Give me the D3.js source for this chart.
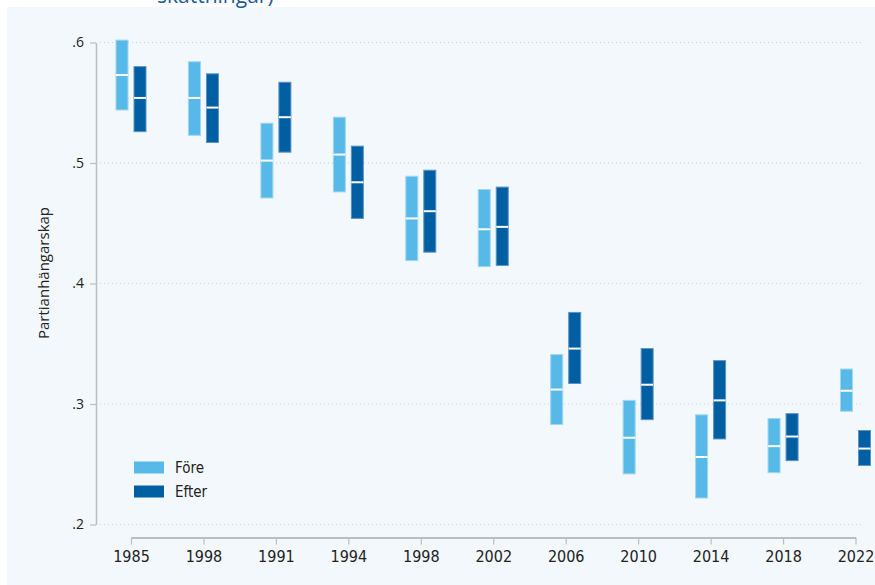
<!DOCTYPE html>
<html>
<head>
<meta charset="utf-8">
<script src="https://cdn.jsdelivr.net/npm/d3@7"></script>
<style>
  html, body { margin: 0; padding: 0; background: #ffffff; }
  svg { display: block; }
</style>
</head>
<body>
<svg id="chart" width="875" height="585"></svg>
<script>
// ---- Data ----
const yearLabels = ["1985", "1998", "1991", "1994", "1998", "2002", "2006", "2010", "2014", "2018", "2022"];
const foreLow  = [0.544, 0.523, 0.471, 0.476, 0.419, 0.414, 0.283, 0.242, 0.222, 0.243, 0.294];
const foreMid  = [0.573, 0.554, 0.502, 0.507, 0.454, 0.445, 0.312, 0.272, 0.256, 0.265, 0.311];
const foreHigh = [0.602, 0.584, 0.533, 0.538, 0.489, 0.478, 0.341, 0.303, 0.291, 0.288, 0.329];
const efterLow  = [0.526, 0.517, 0.509, 0.454, 0.426, 0.415, 0.317, 0.287, 0.271, 0.253, 0.249];
const efterMid  = [0.554, 0.546, 0.538, 0.484, 0.460, 0.447, 0.346, 0.316, 0.303, 0.273, 0.263];
const efterHigh = [0.580, 0.574, 0.567, 0.514, 0.494, 0.480, 0.376, 0.346, 0.336, 0.292, 0.278];
const yTicks = [0.2, 0.3, 0.4, 0.5, 0.6];
const seriesNames = ["Före", "Efter"];
const titleTail = "skattningar)";
const yLabel = "Partianhängarskap";

// ---- Styles ----
const colFore = "#56b9e8", colFore2 = "#9fd6f2";
const colEfter = "#005ea3", colEfter2 = "#5c93c4";
const narrow = "'Liberation Sans Narrow', 'DejaVu Sans Condensed', sans-serif";
const regular = "'Open Sans', 'Noto Sans', sans-serif";

const svg = d3.select("#chart");

// panel background
svg.append("rect").attr("x", 7).attr("y", 7).attr("width", 868).attr("height", 578).attr("fill", "#f2f8fc");

// cut-off title
svg.append("text").attr("x", 157).attr("y", 3)
  .attr("font-family", regular).attr("font-size", 21).attr("fill", "#1c5a96")
  .text(titleTail);

const idx = d3.range(yearLabels.length);
const x = d3.scalePoint().domain(idx).range([131, 855.5]);
const y = d3.scaleLinear().domain([0.2, 0.6]).range([524.5, 42.5]);

// gridlines
svg.append("g").selectAll("line").data(yTicks).join("line")
  .attr("x1", 100).attr("x2", 862)
  .attr("y1", d => y(d)).attr("y2", d => y(d))
  .attr("stroke", "#c9ced3").attr("stroke-width", 1)
  .attr("stroke-dasharray", "1,3");

// y axis
const yAxis = svg.append("g").attr("transform", "translate(96,0)")
  .call(d3.axisLeft(y).tickValues(yTicks).tickSize(6).tickPadding(6).tickSizeOuter(0)
        .tickFormat(d => d3.format(".1f")(d).replace(/^0/, "")));
yAxis.select(".domain").attr("stroke", "#bdbdbd").attr("stroke-width", 1.5);
yAxis.selectAll(".tick line").attr("stroke", "#bdbdbd").attr("stroke-width", 1.2);
yAxis.selectAll("text").attr("font-family", regular).attr("font-size", 14).attr("fill", "#222");

// y label
svg.append("text")
  .attr("transform", "translate(49,273) rotate(-90)")
  .attr("text-anchor", "middle")
  .attr("font-family", regular).attr("font-size", 15).attr("fill", "#222")
  .text(yLabel);

// x axis
const xAxis = svg.append("g").attr("transform", "translate(0,537.5)")
  .call(d3.axisBottom(x).tickSize(7).tickPadding(6).tickSizeOuter(0)
        .tickFormat(i => yearLabels[i]));
xAxis.select(".domain").attr("stroke", "#bdbdbd").attr("stroke-width", 2);
xAxis.selectAll(".tick line").attr("stroke", "#bdbdbd").attr("stroke-width", 1.2);
xAxis.selectAll("text").attr("font-family", narrow).attr("font-size", 16).attr("fill", "#222");

// bars
const barW = 12;
function drawSeries(low, mid, high, offset, fill, stroke) {
  const g = svg.append("g");
  g.selectAll("rect").data(idx).join("rect")
    .attr("x", i => x(i) + offset)
    .attr("y", i => y(high[i]))
    .attr("width", barW)
    .attr("height", i => y(low[i]) - y(high[i]))
    .attr("fill", fill).attr("stroke", stroke).attr("stroke-width", 1);
  g.selectAll("line").data(idx).join("line")
    .attr("x1", i => x(i) + offset).attr("x2", i => x(i) + offset + barW)
    .attr("y1", i => y(mid[i])).attr("y2", i => y(mid[i]))
    .attr("stroke", "#ffffff").attr("stroke-width", 2);
}
drawSeries(foreLow, foreMid, foreHigh, -15, colFore, colFore2);
drawSeries(efterLow, efterMid, efterHigh, 3, colEfter, colEfter2);

// legend
const legend = svg.append("g");
const legCols = [colFore, colEfter];
seriesNames.forEach((name, k) => {
  legend.append("rect").attr("x", 134).attr("y", 461.5 + k * 24).attr("width", 30).attr("height", 12)
    .attr("fill", legCols[k]);
  legend.append("text").attr("x", 175).attr("y", 467.5 + k * 24).attr("dy", "0.35em")
    .attr("font-family", narrow).attr("font-size", 15).attr("fill", "#222").text(name);
});
</script>
</body>
</html>
